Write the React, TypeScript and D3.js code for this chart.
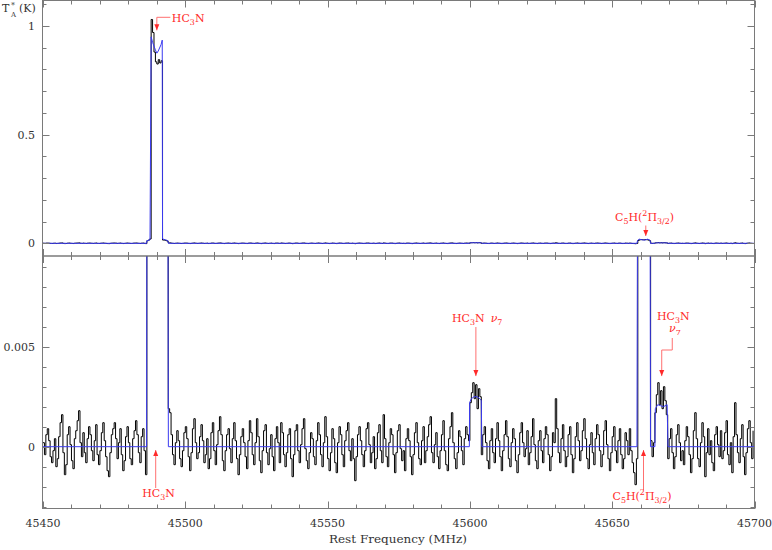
import React from "react";
import * as d3 from "d3";

// ---------- DATA ----------
const channelStart = 45450; // MHz
const channelWidth = 0.5; // MHz
// observed antenna temperature per channel, in units of 0.1 mK
const obsTenthMilliK = [
  2, -4, 6, 9, 3, -5, -8, -2, 4, -10,
  -6, 5, 12, 16, -3, -14, -9, 6, 10, 1,
  -7, -11, 4, 8, 13, 18, 2, -5, 7, -3,
  -8, 4, 10, 6, -2, -7, 3, 11, -4, -9,
  -2, 7, 12, 3, -5, -12, -15, -3, 6, 9,
  12, 4, -6, 2, 9, -4, -12, -7, 5, 10,
  2, -6, -9, 4, 8, 13, 6, -3, -8, 5,
  9, -2, -14,
  120, 150, 200, 10300, 9700, 8800, 8350, 8250, 8450, 8300, 8400, 150, 150, 130, 100, 19,
  17, 6, -4, -9, 2, 8, 3, -6, -10, -2, 7,
  10, 4, -5, -12, -3, 9, 14, 2, -6, -3,
  5, 11, 3, -8, -4, 4, -11, -6, 7, 12,
  -2, -9, 1, 8, 15, 6, -7, -12, -2, 6,
  9, -1, -8, 4, 12, 3, -6, -14, -4, 5,
  9, 2, -5, -11, 3, 13, 7, -4, -9, 2,
  14, 5, -7, -13, -2, 8, 11, -3, -9, -1,
  6, -5, -12, 4, 10, 2, -8, 12, 7, -4,
  -10, -3, 6, 9, -6, -15, -4, 8, 11, -2,
  -8, 1, 9, 14, -1, -7, -11, -3, 7, 4,
  -5, -9, 3, 12, 6, -4, -10, 2, 15, 5,
  -6, -12, -3, 9, 4, -8, -13, 2, 10, 6,
  -4, -10, 3, 8, 12, -2, -7, 4, -6, -17,
  -5, 6, 10, 3, -4, -10, -2, 9, 12, 1,
  -8, -3, 5, -11, -6, 7, 11, -2, -8, 16,
  4, -5, -10, 2, 9, 6, -4, -13, -3, 8,
  11, -1, -7, -2, -12, 4, 9, 3, -5, -14,
  -4, 7, 12, 2, -6, -9, 3, 10, -8, -2,
  5, 11, 15, -3, -8, 1, 7, -5, -11, -2,
  6, 13, -2, -9, -12, 4, 10, 17, 2, -6,
  -11, -3, 8, 5, -2, -9, 4, 10, 6, 3,
  22, 27, 32, 24, 31, 19, 29, 25,
  -4,
  6, 10, 2, -7, -11, 3, 9, -3, -8, 4, 12,
  3, -5, -12, -2, 6, 13, 5, -6, -10, 2,
  9, 4, -7, -13, -4, 7, 12, 2, -5, -1,
  8, -9, -3, 5, 14, 1, -7, -11, 3, 8,
  -2, -8, 4, 10, 6, -4, -12, -5, 7, 2,
  24, 9, -3, -8, 4, 11, -2, -10, -5, 6,
  10, -4, -13, -6, 5, 12, 3, -7, -2, 8,
  14, 4, -6, -11, 1, 7, -3, -9, 4, 11,
  6, -2, -10, -4, 8, 13, 1, -6, -12, -3,
  5, 10, -2, -8, 3, 9, -4, -11, -6, 7,
  3, -4, 9, -2, -8, -13, -19, -6,
  130, 160, 170, 165, 160, 170, 165, 150, 120,
  3, -5, 2,
  17, 26, 32, 21, 28, 19, 30, 23, 16,
  -6, 4, 9, -3, -11, -5, 6, 11, 2, -7, -2,
  -9, 3, 10, 5, -4, -13, -6, 8, 17,
  4, -6, -10, 2, 12, 5, -15, -3, 9, -4,
  3, -8, -12, 6, 10, 1, -5, 8, -6, -2,
  7, 13, -4, -9, 2, -13, 5, 22, 6, -3,
  -8, 4, 11, -5, -14, -3, 9, 13, 2, -6, 8,
];

// fitted model (blue), breakpoints in MHz and K
const modelFreq = [
  45450, 45486.4, 45486.5, 45487.6, 45488.0, 45488.5, 45489.5, 45490.0, 45490.5, 45491.5,
  45491.9, 45492.0, 45493.0, 45493.9, 45494.05, 45599.8, 45599.9, 45600.5, 45601.5, 45602.5,
  45603.5, 45604.0, 45604.2, 45658.7, 45658.9, 45659.5, 45660.5, 45661.5, 45662.5, 45663.3,
  45663.45, 45665.0, 45665.15, 45666.0, 45667.0, 45668.0, 45669.3, 45669.6, 45700,
];
const modelK = [
  0, 0, 0.012, 0.016, 0.95, 0.925, 0.89, 0.875, 0.885, 0.915,
  0.935, 0.02, 0.016, 0.012, 0, 0, 0.0022, 0.0024, 0.0025, 0.0025,
  0.0024, 0.0023, 0, 0, 0.013, 0.019, 0.016, 0.015, 0.019, 0.014,
  0, 0, 0.0019, 0.0021, 0.00205, 0.002, 0.0021, 0, 0,
];

const xDomain = [45450, 45700];
const xMajorTicks = [45450, 45500, 45550, 45600, 45650, 45700];
const xMinorStep = 10;
const topYMajor = [0, 0.5, 1];
const topYMajorLabels = ["0", "0.5", "1"];
const topYMinorStep = 0.1;
const botYMajor = [0, 0.005];
const botYMajorLabels = ["0", "0.005"];
const botYMinorStep = 0.001;

// ---------- LAYOUT ----------
const W = 772;
const H = 550;
const L = 42.5;
const R = 754.5;
const topP = { y0: 0.5, y1: 256 };
const botP = { y0: 256, y1: 508.5 };

const x = d3.scaleLinear().domain(xDomain).range([43, 754.5]);
const yTop = d3.scaleLinear().domain([0, 1]).range([243.3, 26]);
const yBot = d3.scaleLinear().domain([0, 0.005]).range([446.7, 346.7]);

const FRAME = "#7a7a7a";
const RED = "#ff2a2a";
const ARROW = "#ff7070";
const BLUE = "#3a3af0";
const SERIF = "DejaVu Serif, serif";

const obsPts: [number, number][] = obsTenthMilliK.map((v, i) => [
  channelStart + i * channelWidth,
  v * 1e-4,
]);
const modelPts: [number, number][] = modelFreq.map((f, i) => [f, modelK[i]]);

function stepPath(ys: d3.ScaleLinear<number, number>) {
  return d3
    .line<[number, number]>()
    .x((d) => x(d[0]))
    .y((d) => ys(d[1]))
    .curve(d3.curveStepAfter)(obsPts) as string;
}
function modelPath(ys: d3.ScaleLinear<number, number>) {
  return d3
    .line<[number, number]>()
    .x((d) => x(d[0]))
    .y((d) => ys(d[1]))(modelPts) as string;
}

function range(a: number, b: number, s: number) {
  const out: number[] = [];
  const n = Math.round((b - a) / s);
  for (let i = 0; i <= n; i++) out.push(+(a + i * s).toFixed(6));
  return out;
}

function Panel({ ys, p, yMinor, yMajor, yLabels, id }: any) {
  const xMinor = range(xDomain[0], xDomain[1], xMinorStep);
  const isMajorX = (v: number) => xMajorTicks.includes(v);
  const isMajorY = (v: number) => yMajor.some((m: number) => Math.abs(m - v) < 1e-9);
  return (
    <g>
      <defs>
        <clipPath id={id}>
          <rect x={L} y={p.y0} width={R - L} height={p.y1 - p.y0} />
        </clipPath>
      </defs>
      <g clipPath={`url(#${id})`}>
        <path d={stepPath(ys)} fill="none" stroke="#000" strokeWidth={1} />
        <path d={modelPath(ys)} fill="none" stroke={BLUE} strokeWidth={1} />
      </g>
      {xMinor.map((v) => {
        const len = isMajorX(v) ? 7 : 4;
        const xx = Math.round(x(v)) + 0.5;
        return (
          <g key={"xt" + v}>
            <line x1={xx} x2={xx} y1={p.y0} y2={p.y0 + len} stroke={FRAME} />
            <line x1={xx} x2={xx} y1={p.y1} y2={p.y1 - len} stroke={FRAME} />
          </g>
        );
      })}
      {yMinor.map((v: number) => {
        const yy = Math.round(ys(v)) + 0.5;
        if (yy < p.y0 + 1 || yy > p.y1 - 1) return null;
        const len = isMajorY(v) ? 7 : 4;
        return (
          <g key={"yt" + v}>
            <line x1={L} x2={L + len} y1={yy} y2={yy} stroke={FRAME} />
            <line x1={R} x2={R - len} y1={yy} y2={yy} stroke={FRAME} />
          </g>
        );
      })}
      {yMajor.map((v: number, i: number) => (
        <text
          key={"yl" + v}
          x={35}
          y={ys(v) + 4}
          textAnchor="end"
          fontFamily={SERIF}
          fontSize={11}
          fill="#333"
        >
          {yLabels[i]}
        </text>
      ))}
      <rect x={L} y={p.y0} width={R - L} height={p.y1 - p.y0} fill="none" stroke={FRAME} />
    </g>
  );
}

function HC3N({ x0, y0, nu, fs = 11 }: any) {
  return (
    <text x={x0} y={y0} fontFamily={SERIF} fontSize={fs} fill={RED}>
      HC
      <tspan dy={3} fontSize={fs * 0.72}>3</tspan>
      <tspan dy={-3}>N</tspan>
      {nu ? (
        <>
          <tspan dx={6} fontStyle="italic">ν</tspan>
          <tspan dy={3} fontSize={fs * 0.72}>7</tspan>
        </>
      ) : null}
    </text>
  );
}

function C5H({ x0, y0, fs = 11 }: any) {
  return (
    <text x={x0} y={y0} fontFamily={SERIF} fontSize={fs} fill={RED}>
      C
      <tspan dy={3} fontSize={fs * 0.72}>5</tspan>
      <tspan dy={-3}>H(</tspan>
      <tspan dy={-5} fontSize={fs * 0.72}>2</tspan>
      <tspan dy={5}>Π</tspan>
      <tspan dy={3} fontSize={fs * 0.72}>3/2</tspan>
      <tspan dy={-3}>)</tspan>
    </text>
  );
}

function Arrow({ pts, dir }: { pts: [number, number][]; dir: "down" | "up" }) {
  const [tx, ty] = pts[pts.length - 1];
  const s = dir === "down" ? -1 : 1;
  const head = `M${tx},${ty} L${tx - 2.5},${ty + s * 6} L${tx + 2.5},${ty + s * 6} Z`;
  return (
    <g>
      <polyline
        points={pts.map((p) => p.join(",")).join(" ")}
        fill="none"
        stroke={ARROW}
        strokeWidth={1}
      />
      <path d={head} fill={RED} />
    </g>
  );
}

export default function App() {
  const aTopHC = x(45490.0);
  const aTopC5 = x(45661.8);
  const aBotHC = x(45489.6);
  const aNu1 = x(45602.1);
  const aNu2 = x(45667.4);
  const aNu2b = x(45671.1);
  const aBotC5 = x(45661.0);
  return (
    <svg
      width={W}
      height={H}
      style={{ position: "absolute", left: 0, top: 0, background: "#fff" }}
    >
      <rect width={W} height={H} fill="#fff" />
      <Panel
        id="clipTop"
        ys={yTop}
        p={topP}
        yMinor={range(0, 1.1, topYMinorStep)}
        yMajor={topYMajor}
        yLabels={topYMajorLabels}
      />
      <Panel
        id="clipBot"
        ys={yBot}
        p={botP}
        yMinor={range(-0.003, 0.009, botYMinorStep)}
        yMajor={botYMajor}
        yLabels={botYMajorLabels}
      />
      {xMajorTicks.map((v) => (
        <text
          key={"xl" + v}
          x={x(v)}
          y={527}
          textAnchor="middle"
          fontFamily={SERIF}
          fontSize={11}
          fill="#333"
        >
          {v}
        </text>
      ))}
      <text
        x={329}
        y={543}
        fontFamily={SERIF}
        fontSize={11}
        fill="#333"
        textLength={138}
        lengthAdjust="spacingAndGlyphs"
      >
        Rest Frequency (MHz)
      </text>
      <text x={2} y={12} fontFamily={SERIF} fontSize={11} fill="#333">T</text>
      <text x={11} y={8} fontFamily={SERIF} fontSize={8} fill="#333">*</text>
      <text x={11} y={17} fontFamily={SERIF} fontSize={7} fill="#333">A</text>
      <text x={19} y={12} fontFamily={SERIF} fontSize={11} fill="#333">(K)</text>

      <Arrow
        dir="down"
        pts={[
          [aTopHC + 13.5, yTop(1.04)],
          [aTopHC, yTop(1.04)],
          [aTopHC, yTop(0.98)],
        ]}
      />
      <HC3N x0={aTopHC + 15} y0={22} />
      <Arrow dir="down" pts={[[aTopC5, 225.5], [aTopC5, yTop(0.034)]]} />
      <C5H x0={615} y0={220.5} />

      <Arrow dir="up" pts={[[aBotHC, 488], [aBotHC, yBot(-0.00017)]]} />
      <HC3N x0={aBotHC - 13.5} y0={497} />
      <Arrow dir="down" pts={[[aNu1, 327], [aNu1, yBot(0.00353)]]} />
      <HC3N x0={452} y0={321.5} nu />
      <Arrow
        dir="down"
        pts={[
          [aNu2b, 338],
          [aNu2b, 350],
          [aNu2, 350],
          [aNu2, yBot(0.00353)],
        ]}
      />
      <HC3N x0={657} y0={320} />
      <text x={669} y={331.5} fontFamily={SERIF} fontSize={11} fill={RED}>
        <tspan fontStyle="italic">ν</tspan>
        <tspan dy={3} fontSize={8}>7</tspan>
      </text>
      <Arrow dir="up" pts={[[aBotC5, 490], [aBotC5, yBot(-0.00017)]]} />
      <C5H x0={612.5} y0={500} />
    </svg>
  );
}
